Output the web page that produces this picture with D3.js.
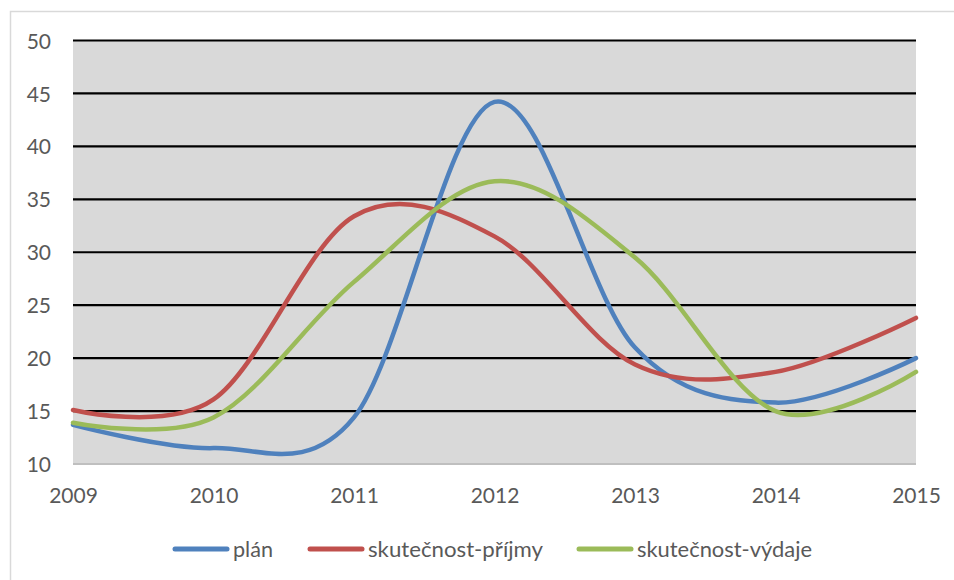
<!DOCTYPE html>
<html>
<head>
<meta charset="utf-8">
<script src="https://cdn.jsdelivr.net/npm/d3@7"></script>
<style>
  html, body { margin: 0; padding: 0; background: #fff; }
  svg { display: block; }
  text { font-family: Lato, Carlito, Calibri, "Open Sans", sans-serif; fill: #595959; }
</style>
</head>
<body>
<svg id="chart" width="954" height="580"></svg>
<script>
const years = [2009, 2010, 2011, 2012, 2013, 2014, 2015];
const plan = [13.7, 11.5, 14.4, 44.2, 21.0, 15.8, 20.0];
const prijmy = [15.1, 16.1, 33.4, 31.5, 19.4, 18.7, 23.8];
const vydaje = [13.9, 14.4, 27.2, 36.7, 29.5, 15.0, 18.7];
const seriesNames = ["plán", "skutečnost-příjmy", "skutečnost-výdaje"];
const seriesColors = ["#4F81BD", "#C0504D", "#9BBB59"];
const yTicks = [10, 15, 20, 25, 30, 35, 40, 45, 50];

const series = [plan, prijmy, vydaje].map((vals, i) => ({
  name: seriesNames[i], color: seriesColors[i],
  values: vals.map((v, j) => ({ year: years[j], value: v }))
}));

const svg = d3.select("#chart");
const plot = { left: 73, right: 916, top: 40.5, bottom: 464 };

// outer border
svg.append("rect").attr("x", 10.5).attr("y", 11.5).attr("width", 1000).attr("height", 1000)
  .attr("fill", "#fff").attr("stroke", "#D9D9D9").attr("stroke-width", 1.5);

const x = d3.scaleLinear().domain([years[0], years[years.length - 1]]).range([plot.left, plot.right]);
const y = d3.scaleLinear().domain([10, 50]).range([plot.bottom, plot.top]);

// plot background
svg.append("rect").attr("x", plot.left).attr("y", plot.top)
  .attr("width", plot.right - plot.left).attr("height", plot.bottom - plot.top)
  .attr("fill", "#D9D9D9");

// gridlines
svg.append("g").selectAll("line").data(yTicks.filter(t => t > 10)).join("line")
  .attr("x1", plot.left).attr("x2", plot.right)
  .attr("y1", d => y(d)).attr("y2", d => y(d))
  .attr("stroke", "#000").attr("stroke-width", 2.2);

// x axis line
svg.append("line").attr("x1", plot.left).attr("x2", plot.right)
  .attr("y1", y(10)).attr("y2", y(10))
  .attr("stroke", "#BFBFBF").attr("stroke-width", 2);

// y axis labels
const yAxis = d3.axisLeft(y).tickValues(yTicks).tickSize(0).tickPadding(0);
const gy = svg.append("g").attr("transform", "translate(51,0)").call(yAxis);
gy.select(".domain").remove();
gy.selectAll("text").attr("font-size", 21).attr("fill", "#595959")
  .style("font-family", "Lato, Carlito, Calibri, sans-serif").attr("dy", "0.36em");

// x axis labels
const xAxis = d3.axisBottom(x).tickValues(years).tickFormat(d3.format("d")).tickSize(0).tickPadding(0);
const gx = svg.append("g").attr("transform", "translate(0,495)").call(xAxis);
gx.select(".domain").remove();
gx.selectAll("text").attr("font-size", 21).attr("fill", "#595959")
  .style("font-family", "Lato, Carlito, Calibri, sans-serif").attr("dy", "0.36em").attr("y", 0);

// lines
const line = d3.line().x(d => x(d.year)).y(d => y(d.value)).curve(d3.curveCatmullRom.alpha(0));
svg.append("g").selectAll("path").data(series).join("path")
  .attr("d", d => line(d.values))
  .attr("fill", "none").attr("stroke", d => d.color)
  .attr("stroke-width", 4.5).attr("stroke-linecap", "round").attr("stroke-linejoin", "round");

// legend
const legendX = [173, 308, 577];
const legendTextW = [40, 175, 175];
const legendY = 549;
const lg = svg.append("g").selectAll("g").data(series).join("g")
  .attr("transform", (d, i) => `translate(${legendX[i]},${legendY})`);
lg.append("line").attr("x1", 2).attr("x2", 54).attr("y1", 0).attr("y2", 0)
  .attr("stroke", d => d.color).attr("stroke-width", 5).attr("stroke-linecap", "round");
lg.append("text").attr("x", 60).attr("y", 8)
  .attr("font-size", 21)
  .attr("textLength", (d, i) => legendTextW[i]).attr("lengthAdjust", "spacingAndGlyphs")
  .text(d => d.name);
</script>
</body>
</html>
